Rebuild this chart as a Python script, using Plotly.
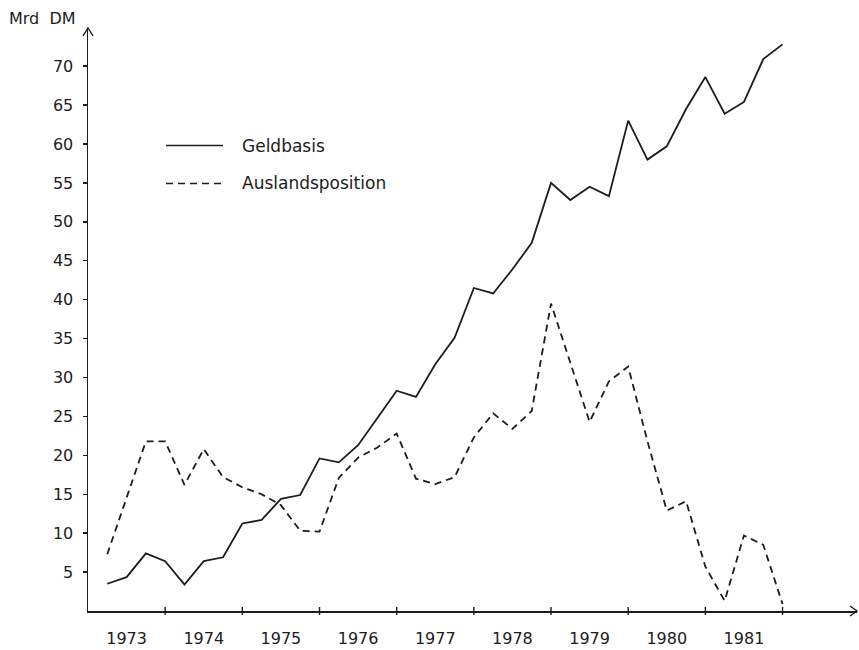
import plotly.graph_objects as go

# ---- data (quarter-end values, Mrd DM) ----
quarters = [1973 + 0.25 * k for k in range(1, 37)]
geldbasis = [3.5, 4.35, 7.4, 6.4, 3.4, 6.4, 6.9, 11.25, 11.7, 14.4, 14.9, 19.6,
             19.1, 21.3, 24.8, 28.3, 27.5, 31.7, 35.1, 41.5, 40.8, 43.9, 47.3, 55.0,
             52.8, 54.5, 53.3, 63.0, 58.0, 59.7, 64.5, 68.6, 63.9, 65.4, 70.9, 72.8]
auslandsposition = [7.3, 14.7, 21.8, 21.8, 16.2, 20.8, 17.2, 15.9, 15.0, 13.6, 10.3, 10.2,
                    17.1, 19.7, 21.0, 22.8, 17.0, 16.3, 17.2, 22.3, 25.4, 23.4, 25.7, 39.5,
                    31.9, 24.3, 29.5, 31.4, 21.8, 12.9, 14.1, 5.7, 1.3, 9.7, 8.5, 0.9]
year_labels = ["1973", "1974", "1975", "1976", "1977", "1978", "1979", "1980", "1981"]
year_centers = [1973.5 + i for i in range(9)]
year_bounds = [1974 + i for i in range(9)]
y_ticks = [5, 10, 15, 20, 25, 30, 35, 40, 45, 50, 55, 60, 65, 70]
series_names = ["Geldbasis", "Auslandsposition"]

# ---- layout geometry (pixels) ----
W, H = 859, 650
L, R, T, B = 88, 2, 28, 37
PW, PH = W - L - R, H - T - B
INK = "#1c1c1c"
FONT = "DejaVu Sans"


def px(xp):
    return (xp - L) / PW


def py(yp):
    return (H - B - yp) / PH


fig = go.Figure()
fig.add_trace(go.Scatter(x=quarters, y=geldbasis, mode="lines", name=series_names[0],
                         line=dict(color=INK, width=1.8), showlegend=False, hoverinfo="skip"))
fig.add_trace(go.Scatter(x=quarters, y=auslandsposition, mode="lines", name=series_names[1],
                         line=dict(color=INK, width=1.8, dash="7px,5px"), showlegend=False,
                         hoverinfo="skip"))

shapes = []
# x tick marks crossing the axis at year boundaries
for yb in year_bounds:
    shapes.append(dict(type="line", xref="x", yref="paper", x0=yb, x1=yb,
                       y0=-4 / PH, y1=4 / PH, line=dict(color=INK, width=1.4)))
# arrow heads (open V)
shapes.append(dict(type="path", xref="paper", yref="paper",
                   path=f"M {1 - 7 / PW},{5 / PH} L 1,0 L {1 - 7 / PW},{-5 / PH}",
                   line=dict(color=INK, width=1.4)))
shapes.append(dict(type="path", xref="paper", yref="paper",
                   path=f"M {-5 / PW},{1 - 8 / PH} L 0,1 L {5 / PW},{1 - 8 / PH}",
                   line=dict(color=INK, width=1.4)))
# legend samples
shapes.append(dict(type="line", xref="paper", yref="paper", x0=px(166), x1=px(223),
                   y0=py(146), y1=py(146), line=dict(color=INK, width=1.5)))
shapes.append(dict(type="line", xref="paper", yref="paper", x0=px(166), x1=px(223),
                   y0=py(184), y1=py(184), line=dict(color=INK, width=1.5, dash="7px,5px")))

annotations = [
    dict(text=series_names[0], xref="paper", yref="paper", x=px(240), y=py(146),
         xanchor="left", yanchor="middle", showarrow=False,
         font=dict(family=FONT, size=17, color=INK)),
    dict(text=series_names[1], xref="paper", yref="paper", x=px(240), y=py(184),
         xanchor="left", yanchor="middle", showarrow=False,
         font=dict(family=FONT, size=17, color=INK)),
    dict(text="Mrd  DM", xref="paper", yref="paper", x=px(7), y=py(18),
         xanchor="left", yanchor="middle", showarrow=False,
         font=dict(family=FONT, size=16, color=INK)),
]

fig.update_layout(
    width=W, height=H,
    margin=dict(l=L, r=R, t=T, b=B, pad=0),
    paper_bgcolor="white", plot_bgcolor="white",
    font=dict(family=FONT, size=16, color=INK),
    shapes=shapes, annotations=annotations,
    hovermode=False,
    xaxis=dict(range=[1973, 1973 + PW / 77.17], tickvals=year_centers, ticktext=year_labels,
               ticks="", showgrid=False, zeroline=False, showline=True,
               linecolor=INK, linewidth=1.5, ticklabelstandoff=12,
               tickfont=dict(family=FONT, size=16, color=INK)),
    yaxis=dict(range=[0, PH / 7.81], tickvals=y_ticks, ticks="outside", ticklen=4,
               tickwidth=1.4, tickcolor=INK, showgrid=False, zeroline=False,
               showline=True, linecolor=INK, linewidth=1.5, ticklabelstandoff=6,
               tickfont=dict(family=FONT, size=16, color=INK)),
)

fig.write_html("out.html", config={"displayModeBar": False, "staticPlot": True},
               post_script="document.body.style.margin='0';document.body.style.padding='0';")
